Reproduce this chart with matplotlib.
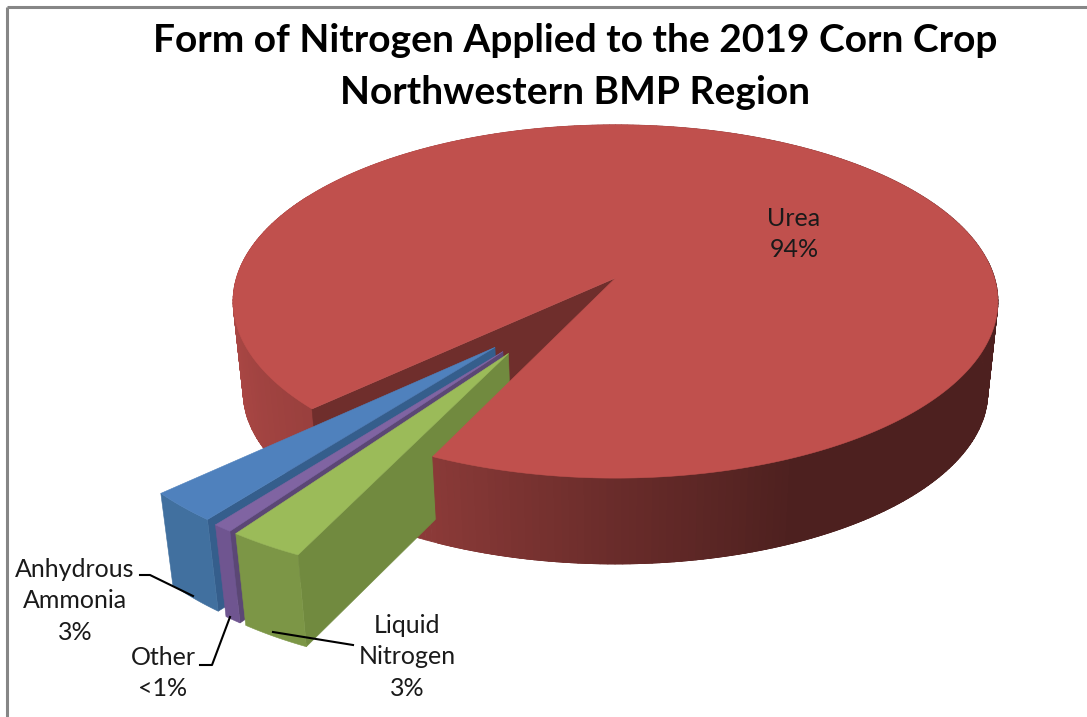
import numpy as np
import matplotlib
matplotlib.use('Agg')
import matplotlib.pyplot as plt
from matplotlib.collections import PolyCollection
from matplotlib.patches import Polygon

plt.rcParams['font.family'] = ['Lato', 'DejaVu Sans']

title_lines = ['Form of Nitrogen Applied to the 2019 Corn Crop', 'Northwestern BMP Region']
categories = ['Urea', 'Anhydrous\nAmmonia', 'Other', 'Liquid\nNitrogen']
values = [94.0, 2.6, 0.7, 2.7]
value_labels = ['94%', '3%', '<1%', '3%']
top_colors = ['#C0504D', '#4F81BD', '#8064A2', '#9BBB59']
side_colors = ['#6F2E2C', '#355E8C', '#5B4775', '#718A3F']
end_colors = ['#9F4340', '#41709F', '#6F5590', '#7C9646']

# the red slice starts here and runs counter clockwise, degrees
start_angle = 244.9
# small slices are pulled out of the pie
explode_r = [0, 0.485, 0.49, 0.49]
explode_dir = [0, 231.5, 235, 237]

# perspective of the disc, in pixels
X0, Y0 = 615.5, 278
A, B, K = 379, 173.5, 0.133
X0_low, Y0_low = 615.5, 369
A_low, B_low = 369, 169
B_low_slice = 174


def project(u, v, low=False, b_low=B_low):
    u = np.asarray(u, dtype=float)
    v = np.asarray(v, dtype=float)
    w = 1 + K * v
    if low:
        return X0_low + A_low * u / w, Y0_low - b_low * v / w
    return X0 + A * u / w, Y0 - B * v / w


def rim(a1, a2, off=(0, 0), low=False, n=200, b_low=B_low):
    t = np.radians(np.linspace(a1, a2, n))
    x, y = project(np.cos(t) + off[0], np.sin(t) + off[1], low, b_low)
    return np.column_stack([x, y])


def wall(a1, a2, off=(0, 0), n=200, b_low=B_low):
    top = rim(a1, a2, off, False, n)
    low = rim(a1, a2, off, True, n, b_low)
    return np.vstack([top, low[::-1]])


def red_shade(a):
    a = np.mod(a, 360)
    return np.interp(a, [0, 90, 180, 223, 245, 270, 295, 360],
                     [0.40, 0.80, 0.92, 0.80, 0.72, 0.55, 0.40, 0.40])


def red_rim(ax, a1, a2, step=1.0):
    edges = np.arange(a1, a2 + step, step)
    polys = []
    cols = []
    base = np.array(matplotlib.colors.to_rgb(top_colors[0]))
    for e1, e2 in zip(edges[:-1], edges[1:]):
        polys.append(wall(e1, e2, n=3))
        cols.append(tuple(base * red_shade((e1 + e2) / 2)))
    ax.add_collection(PolyCollection(polys, facecolors=cols, edgecolors=cols, linewidths=0.6))


def face(ax, xy, color):
    ax.add_patch(Polygon(xy, closed=True, facecolor=color, edgecolor=color, linewidth=0.4))


spans = np.array(values) * 3.6
red_end = start_angle + spans[0]

fig = plt.figure(figsize=(10.87, 7.17), dpi=100)
ax = fig.add_axes([0, 0, 1, 1])
ax.set_xlim(0, 1087)
ax.set_ylim(717, 0)
ax.axis('off')

# frame only shows on the top and the left
ax.plot([7, 1087], [7, 7], color='#868686', lw=2.2, solid_capstyle='butt')
ax.plot([7, 7], [7, 717], color='#868686', lw=2.2, solid_capstyle='butt')

# back part of the red slice
red_rim(ax, 150, red_end)
t_end = np.radians(red_end)
ex, ey = np.cos(t_end), np.sin(t_end)
px, py = project([0, ex], [0, ey])
qx, qy = project([0, ex], [0, ey], True)
face(ax, np.column_stack([[px[0], px[1], qx[1], qx[0]], [py[0], py[1], qy[1], qy[0]]]), side_colors[0])

# pulled out slices, from the back to the front
a = red_end
for i in range(1, len(values)):
    a1, a2 = a, a + spans[i]
    a = a2
    d = np.radians(explode_dir[i])
    off = (explode_r[i] * np.cos(d), explode_r[i] * np.sin(d))
    t2 = np.radians(a2)
    ux, vy = off[0] + np.cos(t2), off[1] + np.sin(t2)
    tx, ty = project([off[0], ux], [off[1], vy])
    lx, ly = project([off[0], ux], [off[1], vy], True, B_low_slice)
    face(ax, np.column_stack([[tx[0], tx[1], lx[1], lx[0]], [ty[0], ty[1], ly[1], ly[0]]]), side_colors[i])
    face(ax, wall(a1, a2, off, 30, B_low_slice), end_colors[i])
    ox, oy = project(off[0], off[1])
    face(ax, np.vstack([[ox, oy], rim(a1, a2, off, False, 30)]), top_colors[i])

# front of the red slice sits over the green one
red_rim(ax, start_angle, 365)
ox, oy = project(0, 0)
face(ax, np.vstack([[ox, oy], rim(start_angle, red_end, n=500)]), top_colors[0])

# labels
title_y = [41, 92]
for s, y in zip(title_lines, title_y):
    ax.text(575.5, y, s, ha='center', va='center', fontsize=28, fontweight='bold', color='black')

label_pos = [(794, 234), (75, 601), (163, 673), (407, 657)]
for c, v, (x, y) in zip(categories, value_labels, label_pos):
    ax.text(x, y, c + '\n' + v, ha='center', va='center', fontsize=18, color='#1a1a1a', linespacing=1.47)

leaders = [([140, 150, 193], [575, 575, 596]),
           ([200, 212, 230], [665, 665, 617]),
           ([353, 273], [645, 632])]
for lx, ly in leaders:
    ax.plot(lx, ly, color='black', lw=1.5)

fig.savefig('out.png', dpi=100)
